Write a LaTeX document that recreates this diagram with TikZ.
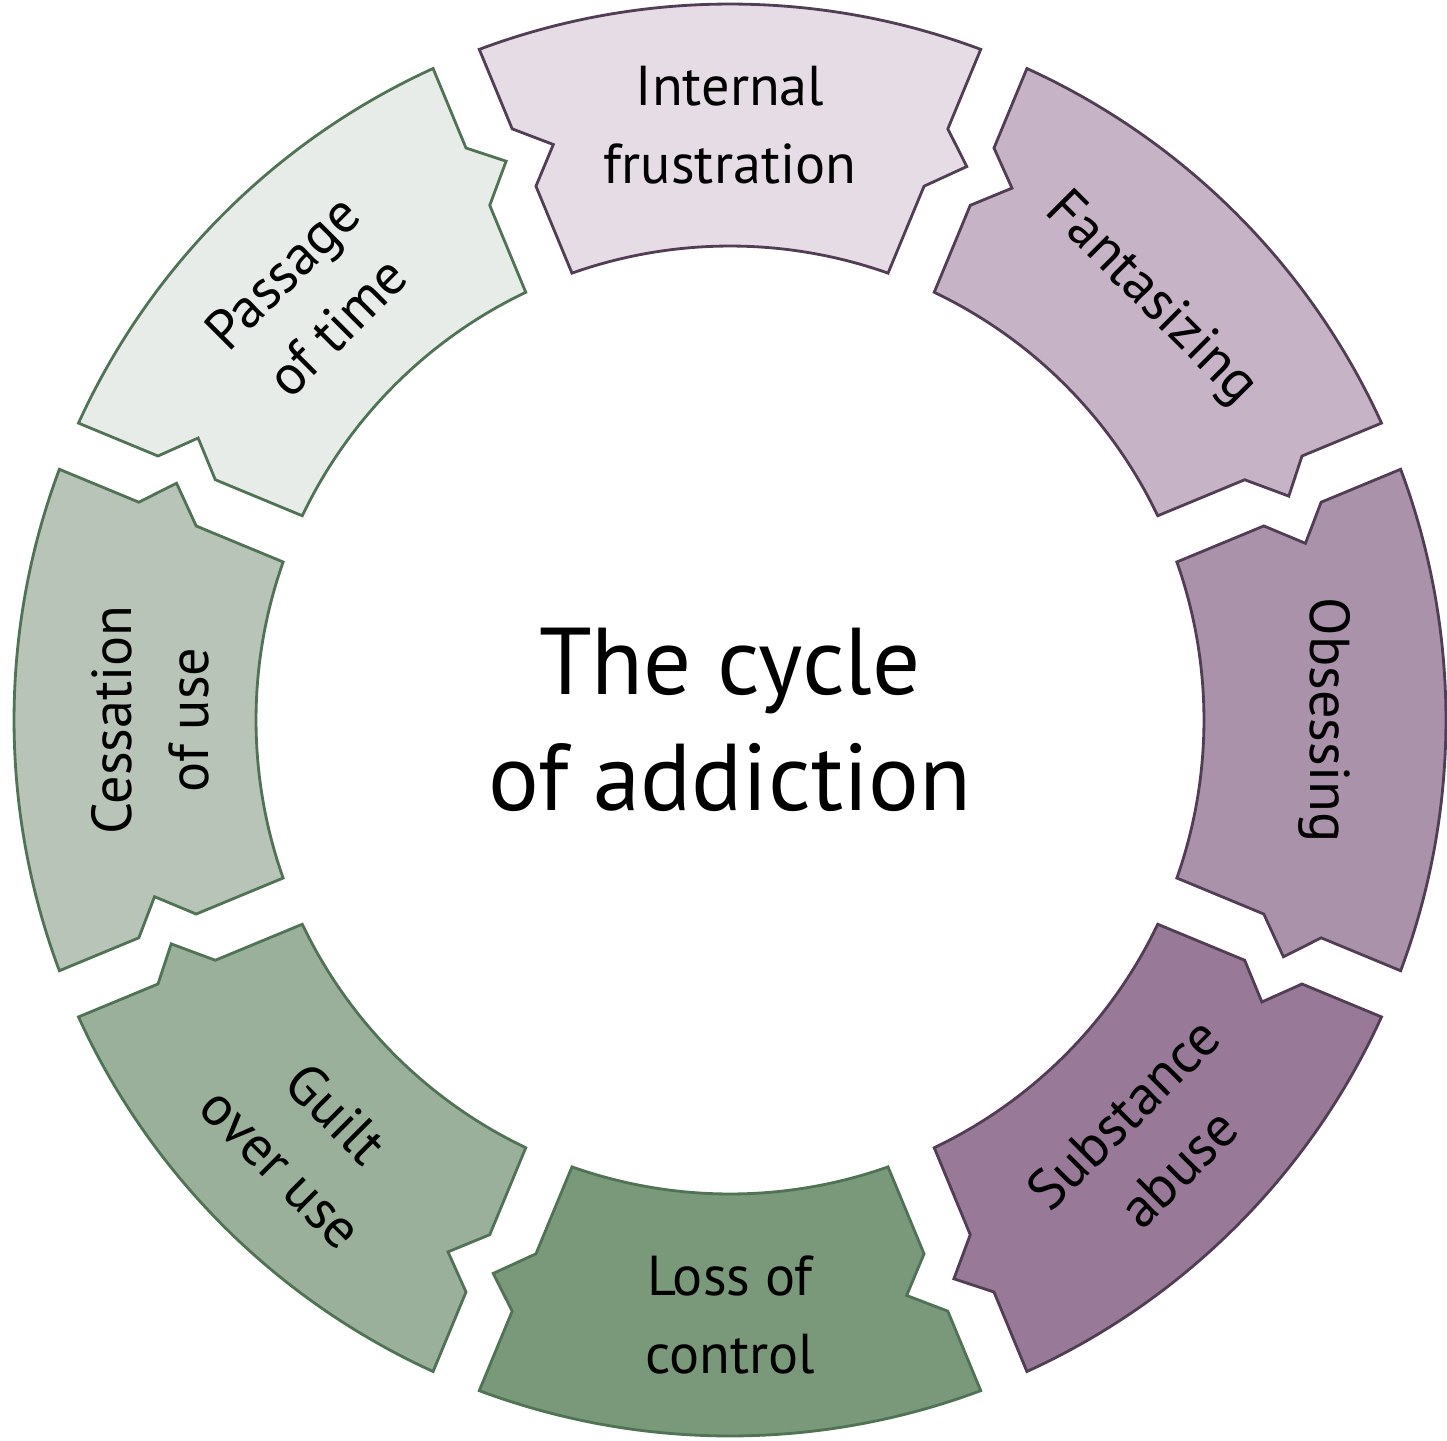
\documentclass[tikz,border=0pt]{standalone}
\usepackage{fontspec}
\setmainfont{PT Sans}
\definecolor{lilacA}{RGB}{230,220,230}
\definecolor{lilacB}{RGB}{198,179,198}
\definecolor{lilacC}{RGB}{171,146,171}
\definecolor{lilacD}{RGB}{152,122,152}
\definecolor{sageA}{RGB}{122,152,122}
\definecolor{sageB}{RGB}{155,176,155}
\definecolor{sageC}{RGB}{183,196,183}
\definecolor{sageD}{RGB}{232,236,232}
\definecolor{lilacline}{RGB}{82,62,84}
\definecolor{sageline}{RGB}{80,115,86}
\def\rOut{7.16}
\def\rIn{4.74}
\def\rA{6.30}
\def\rT{6.02}
\def\rB{5.68}
\def\hGap{0.25}
\def\tOff{0.32}
\def\ringpiece[#1](#2){\draw[#1] ({#2+22.5-asin(\hGap/\rOut)}:\rOut)
  arc[start angle={#2+22.5-asin(\hGap/\rOut)}, end angle={#2-22.5+asin(\hGap/\rOut)}, radius=\rOut]
  -- ({#2-22.5+asin(\hGap/\rA)}:\rA) -- ({#2-22.5-asin((\tOff-\hGap)/\rT)}:\rT) -- ({#2-22.5+asin(\hGap/\rB)}:\rB)
  -- ({#2-22.5+asin(\hGap/\rIn)}:\rIn)
  arc[start angle={#2-22.5+asin(\hGap/\rIn)}, end angle={#2+22.5-asin(\hGap/\rIn)}, radius=\rIn]
  -- ({#2+22.5-asin(\hGap/\rB)}:\rB) -- ({#2+22.5-asin((\hGap+\tOff)/\rT)}:\rT) -- ({#2+22.5-asin(\hGap/\rA)}:\rA)
  -- cycle;}

\begin{document}
\begin{tikzpicture}[line join=miter,
    lbl/.style={align=center, font=\fontsize{16}{22}\selectfont},
    ttl/.style={align=center, font=\fontsize{27}{33}\selectfont}]
			%%%%% START %%%%%
			\useasboundingbox (-7.30, -7.20) rectangle (7.17, 7.20);
			
			\ringpiece[line width=0.8pt, draw=lilacline, fill=lilacA](90)
			\ringpiece[line width=0.8pt, draw=lilacline, fill=lilacB](45)
			\ringpiece[line width=0.8pt, draw=lilacline, fill=lilacC](0)
			\ringpiece[line width=0.8pt, draw=lilacline, fill=lilacD](-45)
			\ringpiece[line width=0.8pt, draw=sageline, fill=sageA](-90)
			\ringpiece[line width=0.8pt, draw=sageline, fill=sageB](-135)
			\ringpiece[line width=0.8pt, draw=sageline, fill=sageC](180)
			\ringpiece[line width=0.8pt, draw=sageline, fill=sageD](135)
			
			\node[lbl] (frustration) at (90:5.95) {Internal\\frustration};
			\node[lbl, rotate=-45] (fantasy) at (45:5.95) {Fantasizing};
			\node[lbl, rotate=-90] (obsess) at (0:5.95) {Obsessing};
			\node[lbl, rotate=45] (abuse) at (-45:5.95) {Substance\\abuse};
			\node[lbl] (control) at (-90:5.95) {Loss of\\control};
			\node[lbl, rotate=-45] (guilt) at (-135:5.95) {Guilt\\over use};
			\node[lbl, rotate=90] (cessation) at (180:5.80) {Cessation\\of use};
			\node[lbl, rotate=45] (passage) at (135:5.95) {Passage\\of time};
			
			\node[ttl] (title) at (0, 0) {The cycle\\of addiction};
			%%%%% END %%%%%
\end{tikzpicture}
\end{document}
